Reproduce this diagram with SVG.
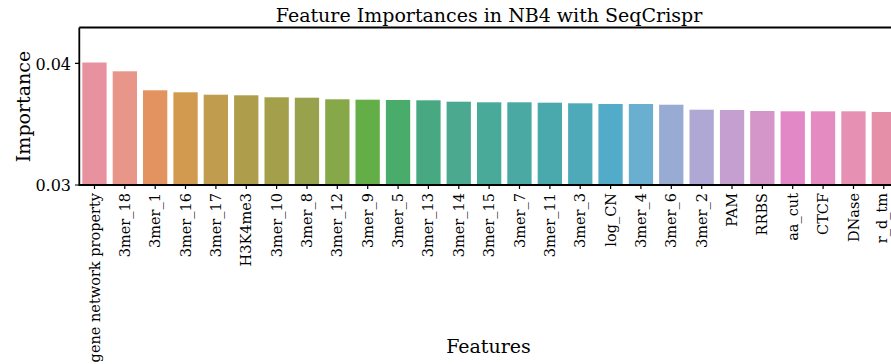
<svg xmlns="http://www.w3.org/2000/svg" width="891" height="364" viewBox="0 0 891 364">
<style>
text{font-family:"DejaVu Serif","Liberation Serif",serif;fill:#000}
.t{font-size:19px}
.tk{font-size:16px}
.xl{font-size:14.5px}
.sp{stroke:#000;stroke-width:1.8;fill:none}
.tick{stroke:#000;stroke-width:1.2}
</style>
<rect width="891" height="364" fill="#fff"/>
<text class="t" x="489" y="22" text-anchor="middle">Feature Importances in NB4 with SeqCrispr</text>
<g id="bars">
<rect x="82.3" y="62.5" width="24.3" height="122.5" fill="#e8929f"/>
<rect x="112.7" y="71.3" width="24.3" height="113.7" fill="#e8968a"/>
<rect x="143.0" y="90.3" width="24.3" height="94.7" fill="#e2935f"/>
<rect x="173.4" y="92.3" width="24.3" height="92.7" fill="#d19a4e"/>
<rect x="203.7" y="94.7" width="24.3" height="90.3" fill="#c09c4e"/>
<rect x="234.1" y="95.3" width="24.3" height="89.7" fill="#ae9e4c"/>
<rect x="264.5" y="97.3" width="24.3" height="87.7" fill="#a39f4b"/>
<rect x="294.8" y="97.7" width="24.3" height="87.3" fill="#98a24c"/>
<rect x="325.2" y="99.3" width="24.3" height="85.7" fill="#87a848"/>
<rect x="355.5" y="99.7" width="24.3" height="85.3" fill="#63ae47"/>
<rect x="385.9" y="100" width="24.3" height="85" fill="#49ac6a"/>
<rect x="416.3" y="100.3" width="24.3" height="84.7" fill="#48a882"/>
<rect x="446.6" y="101.7" width="24.3" height="83.3" fill="#4aa98e"/>
<rect x="477.0" y="102.3" width="24.3" height="82.7" fill="#4aaa9a"/>
<rect x="507.3" y="102.3" width="24.3" height="82.7" fill="#4aa9a3"/>
<rect x="537.7" y="102.7" width="24.3" height="82.3" fill="#4aa9ad"/>
<rect x="568.1" y="103.3" width="24.3" height="81.7" fill="#4eaab9"/>
<rect x="598.4" y="104" width="24.3" height="81" fill="#52abc9"/>
<rect x="628.8" y="104" width="24.3" height="81" fill="#6aaed0"/>
<rect x="659.1" y="104.7" width="24.3" height="80.3" fill="#97abd3"/>
<rect x="689.5" y="109.7" width="24.3" height="75.3" fill="#afa8d4"/>
<rect x="719.9" y="110" width="24.3" height="75" fill="#c59fcf"/>
<rect x="750.2" y="111" width="24.3" height="74" fill="#d495c9"/>
<rect x="780.6" y="111.3" width="24.3" height="73.7" fill="#e388c6"/>
<rect x="810.9" y="111.3" width="24.3" height="73.7" fill="#e48cc1"/>
<rect x="841.3" y="111.3" width="24.3" height="73.7" fill="#e690b4"/>
<rect x="871.7" y="112" width="24.3" height="73" fill="#e590a8"/>
</g>
<g id="axes">
<path class="sp" d="M79.3,27.5 H900 M79.3,27.5 V185 H900"/>
<path class="tick" d="M75,63.3 H79.3 M75,185 H79.3"/>
<path class="tick" d="M94.5,185 v4 M124.8,185 v4 M155.2,185 v4 M185.5,185 v4 M215.9,185 v4 M246.3,185 v4 M276.6,185 v4 M307,185 v4 M337.3,185 v4 M367.7,185 v4 M398.1,185 v4 M428.4,185 v4 M458.8,185 v4 M489.1,185 v4 M519.5,185 v4 M549.9,185 v4 M580.2,185 v4 M610.6,185 v4 M640.9,185 v4 M671.3,185 v4 M701.7,185 v4 M732,185 v4 M762.4,185 v4 M792.7,185 v4 M823.1,185 v4 M853.5,185 v4 M883.8,185 v4"/>
<text class="tk" x="71" y="69.5" text-anchor="end">0.04</text>
<text class="tk" x="71" y="191" text-anchor="end">0.03</text>
<text class="t" transform="translate(29.5,106.5) rotate(-90)" text-anchor="middle">Importance</text>
<text class="t" x="488.5" y="353" text-anchor="middle">Features</text>
</g>
<g id="xlabels" class="xl" text-anchor="end">
<text transform="translate(99.5,193) rotate(-90)">gene network property</text>
<text transform="translate(129.8,193) rotate(-90)">3mer_18</text>
<text transform="translate(160.2,193) rotate(-90)">3mer_1</text>
<text transform="translate(190.5,193) rotate(-90)">3mer_16</text>
<text transform="translate(220.9,193) rotate(-90)">3mer_17</text>
<text transform="translate(251.3,193) rotate(-90)">H3K4me3</text>
<text transform="translate(281.6,193) rotate(-90)">3mer_10</text>
<text transform="translate(312,193) rotate(-90)">3mer_8</text>
<text transform="translate(342.3,193) rotate(-90)">3mer_12</text>
<text transform="translate(372.7,193) rotate(-90)">3mer_9</text>
<text transform="translate(403.1,193) rotate(-90)">3mer_5</text>
<text transform="translate(433.4,193) rotate(-90)">3mer_13</text>
<text transform="translate(463.8,193) rotate(-90)">3mer_14</text>
<text transform="translate(494.1,193) rotate(-90)">3mer_15</text>
<text transform="translate(524.5,193) rotate(-90)">3mer_7</text>
<text transform="translate(554.9,193) rotate(-90)">3mer_11</text>
<text transform="translate(585.2,193) rotate(-90)">3mer_3</text>
<text transform="translate(615.6,193) rotate(-90)">log_CN</text>
<text transform="translate(645.9,193) rotate(-90)">3mer_4</text>
<text transform="translate(676.3,193) rotate(-90)">3mer_6</text>
<text transform="translate(706.7,193) rotate(-90)">3mer_2</text>
<text transform="translate(737,193) rotate(-90)">PAM</text>
<text transform="translate(767.4,193) rotate(-90)">RRBS</text>
<text transform="translate(797.7,193) rotate(-90)">aa_cut</text>
<text transform="translate(828.1,193) rotate(-90)">CTCF</text>
<text transform="translate(858.5,193) rotate(-90)">DNase</text>
<text transform="translate(886.5,193) rotate(-90)">r_d_tm</text>
</g>
</svg>
